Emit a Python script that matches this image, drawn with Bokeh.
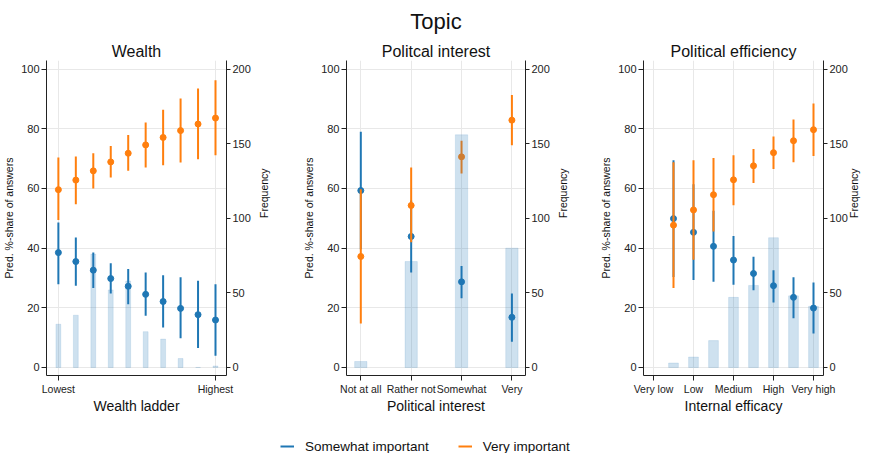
import math
from bokeh.plotting import figure
from bokeh.layouts import column, row
from bokeh.models import (Range1d, LinearAxis, FixedTicker, Title, Legend,
                          LegendItem, ColumnDataSource)
from bokeh.embed import file_html
from bokeh.resources import INLINE

# ---------------- data ----------------
wealth_x = [1, 2, 3, 4, 5, 6, 7, 8, 9, 10]
wealth_freq = [29, 35, 76, 52, 58, 24, 19, 6, 0, 1]
wealth_some = [38.5, 35.5, 32.6, 29.8, 27.2, 24.5, 22.1, 19.8, 17.7, 15.9]
wealth_some_lo = [27.9, 27.4, 26.6, 24.8, 21.2, 17.3, 13.4, 9.8, 6.5, 3.9]
wealth_some_hi = [48.6, 43.6, 38.5, 34.9, 33.0, 31.8, 30.9, 30.2, 29.1, 27.9]
wealth_very = [59.6, 62.8, 65.9, 68.9, 71.8, 74.6, 77.1, 79.4, 81.6, 83.6]
wealth_very_lo = [49.4, 54.7, 60.0, 63.7, 65.9, 67.0, 67.8, 68.7, 69.8, 71.1]
wealth_very_hi = [70.4, 70.7, 71.8, 74.2, 77.9, 82.1, 86.4, 90.2, 93.5, 96.3]
wealth_ticks = [1, 10]
wealth_labels = ["Lowest", "Highest"]

interest_x = [1, 2, 3, 4]
interest_freq = [4, 71, 156, 80]
interest_some = [59.3, 43.9, 28.7, 16.8]
interest_some_lo = [39.6, 31.8, 23.2, 8.6]
interest_some_hi = [79.0, 56.0, 34.0, 24.8]
interest_very = [37.2, 54.3, 70.6, 82.9]
interest_very_lo = [14.7, 42.0, 65.0, 74.5]
interest_very_hi = [59.7, 67.0, 76.0, 91.3]
interest_ticks = [1, 2, 3, 4]
interest_labels = ["Not at all", "Rather not", "Somewhat", "Very"]

eff_x = [1.5, 2, 2.5, 3, 3.5, 4, 4.5, 5]
eff_freq = [3, 7, 18, 47, 55, 87, 48, 41]
eff_some = [49.9, 45.3, 40.6, 36.0, 31.5, 27.4, 23.5, 19.9]
eff_some_lo = [30.3, 29.3, 28.7, 27.7, 25.9, 21.8, 16.5, 11.4]
eff_some_hi = [69.5, 61.4, 52.5, 44.1, 37.1, 32.6, 30.2, 28.5]
eff_very = [47.7, 52.8, 57.9, 62.9, 67.6, 72.0, 76.0, 79.7]
eff_very_lo = [26.6, 36.1, 45.6, 54.4, 61.8, 66.5, 68.8, 70.9]
eff_very_hi = [68.8, 69.5, 70.2, 71.1, 73.2, 77.4, 83.1, 88.5]
eff_ticks = [1, 2, 3, 4, 5]
eff_labels = ["Very low", "Low", "Medium", "High", "Very high"]

share_ticks = [0, 20, 40, 60, 80, 100]
freq_ticks = [0, 50, 100, 150, 200]
series_labels = ["Somewhat important", "Very important"]

# ---------------- style ----------------
BLUE = "#1f77b4"
ORANGE = "#ff7f0e"
FONT = "Liberation Sans"
GRID = "#e8e8e8"
AX = "#222222"
FRAME_H = 315


def style_axis(ax, tick_font="11px"):
    ax.axis_line_color = AX
    ax.axis_line_width = 1
    ax.major_tick_line_color = AX
    ax.major_tick_out = 5
    ax.major_tick_in = 0
    ax.minor_tick_line_color = None
    ax.major_label_text_font = FONT
    ax.major_label_text_font_size = tick_font
    ax.major_label_text_color = "#222222"
    ax.axis_label_text_font = FONT
    ax.axis_label_text_font_style = "normal"
    ax.axis_label_text_color = "#111111"


def panel(title, xlabel, x, freq, s, slo, shi, v, vlo, vhi, ticks, labels,
          xr, fw, bl, br, barw, right_standoff, topic=None):
    p = figure(frame_width=fw, frame_height=FRAME_H, x_range=Range1d(*xr),
               y_range=Range1d(-2.7, 102.9), toolbar_location=None, tools="",
               output_backend="svg", min_border_left=bl, min_border_right=br,
               min_border_top=58, min_border_bottom=36)
    p.extra_y_ranges = {"freq": Range1d(-5.4, 205.8)}
    p.outline_line_color = None
    p.background_fill_color = "white"
    p.border_fill_color = "white"

    # titles
    t = Title(text=title, align="center", text_font=FONT,
              text_font_size="16px", text_font_style="normal",
              text_color="#111111", standoff=2)
    p.add_layout(t, "above")
    if topic:
        tt = Title(text=topic, align="center", text_font=FONT,
                   text_font_size="22px", text_font_style="normal",
                   text_color="#111111", standoff=12)
        p.add_layout(tt, "above")

    # axes
    p.yaxis.ticker = FixedTicker(ticks=share_ticks)
    p.yaxis.axis_label = "Pred. %-share of answers"
    style_axis(p.yaxis[0])
    p.yaxis.axis_label_text_font_size = "10.5px"
    p.yaxis.axis_label_standoff = 3
    p.yaxis.major_label_standoff = 2

    ra = LinearAxis(y_range_name="freq", ticker=FixedTicker(ticks=freq_ticks),
                    axis_label="Frequency")
    style_axis(ra)
    ra.major_tick_out = 4
    ra.major_label_standoff = 2
    ra.axis_label_standoff = right_standoff
    ra.axis_label_text_font_size = "10.5px"
    try:
        ra.axis_label_orientation = math.pi / 2
    except Exception:
        pass
    p.add_layout(ra, "right")

    p.xaxis.ticker = FixedTicker(ticks=ticks)
    p.xaxis.major_label_overrides = {k: l for k, l in zip(ticks, labels)}
    p.xaxis.axis_label = xlabel
    style_axis(p.xaxis[0], tick_font="10.5px")
    p.xaxis.major_label_standoff = 2
    p.xaxis.axis_label_standoff = 0
    p.xaxis.axis_label_text_font_size = "14px"

    p.xgrid.ticker = FixedTicker(ticks=ticks)
    p.ygrid.ticker = FixedTicker(ticks=share_ticks)
    p.xgrid.grid_line_color = GRID
    p.ygrid.grid_line_color = GRID

    src_s = ColumnDataSource(dict(x=x, y=s, lo=slo, hi=shi))
    src_v = ColumnDataSource(dict(x=x, y=v, lo=vlo, hi=vhi))
    for src, col in ((src_s, BLUE), (src_v, ORANGE)):
        p.segment(x0="x", y0="lo", x1="x", y1="hi", source=src,
                  line_color=col, line_width=2)
        p.scatter(x="x", y="y", source=src, size=6, fill_color=col,
                  line_color=col)

    p.vbar(x=x, top=freq, bottom=0, width=barw, y_range_name="freq",
           fill_color=BLUE, fill_alpha=0.22, line_color=BLUE, line_alpha=0.12,
           line_width=1)
    return p


p1 = panel("Wealth", "Wealth ladder", wealth_x, wealth_freq, wealth_some,
           wealth_some_lo, wealth_some_hi, wealth_very, wealth_very_lo,
           wealth_very_hi, wealth_ticks, wealth_labels, (0.32, 10.63),
           180, 42, 68, 0.28, 10)
p2 = panel("Politcal interest", "Political interest", interest_x,
           interest_freq, interest_some, interest_some_lo, interest_some_hi,
           interest_very, interest_very_lo, interest_very_hi, interest_ticks,
           interest_labels, (0.716, 4.27), 179, 52, 59, 0.245, 10,
           topic="Topic")
p3 = panel("Political efficiency", "Internal efficacy", eff_x, eff_freq,
           eff_some, eff_some_lo, eff_some_hi, eff_very, eff_very_lo,
           eff_very_hi, eff_ticks, eff_labels, (0.75, 5.25), 180, 59, 38,
           0.245, 3)

# ---------------- legend ----------------
lg = figure(width=858, height=37, toolbar_location=None, tools="",
            output_backend="svg", min_border=0, x_range=Range1d(0, 1),
            y_range=Range1d(0, 1), x_axis_location=None, y_axis_location=None)
lg.outline_line_color = None
lg.xgrid.visible = False
lg.ygrid.visible = False
r1 = lg.line(x=[2, 3], y=[2, 3], line_color=BLUE, line_width=2)
r2 = lg.line(x=[2, 3], y=[2, 3], line_color=ORANGE, line_width=2)
legend = Legend(items=[LegendItem(label=series_labels[0], renderers=[r1]),
                       LegendItem(label=series_labels[1], renderers=[r2])],
                orientation="horizontal", location=(280, -1),
                label_text_font=FONT, label_text_font_size="13.5px",
                label_text_color="#111111", glyph_width=14, glyph_height=16,
                label_standoff=11, spacing=29, padding=0, margin=0,
                border_line_color=None, background_fill_alpha=0)
lg.add_layout(legend, "center")

layout = column(row(p1, p2, p3, spacing=0), lg, spacing=0)
open("out.html", "w").write(file_html(layout, INLINE))
